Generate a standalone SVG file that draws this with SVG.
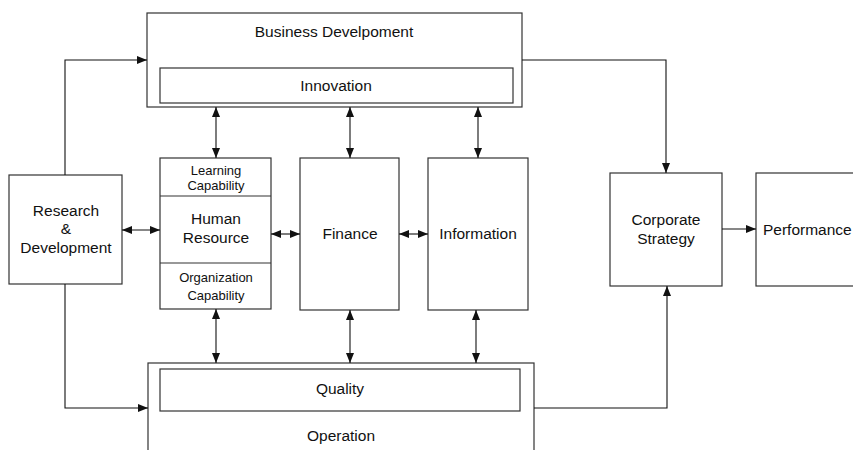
<svg xmlns="http://www.w3.org/2000/svg" width="853" height="450" viewBox="0 0 853 450">
<style>
.box{fill:#fff;stroke:#333;stroke-width:1.2}
.ln{fill:none;stroke:#111;stroke-width:1.1}
.t{font-family:"Liberation Sans",Arial,sans-serif;font-size:15.5px;fill:#111;text-anchor:middle}
.s{font-size:13px}
</style>
<defs>
<marker id="ah" viewBox="0 0 10 10" refX="10" refY="5" markerWidth="10" markerHeight="10" markerUnits="userSpaceOnUse" orient="auto-start-reverse">
<path d="M0,1 L10,5 L0,9 Z" fill="#111"/>
</marker>
</defs>
<rect width="853" height="450" fill="#fff"/>
<g id="business">
<rect class="box" x="147" y="13" width="375" height="94"/>
<text class="t" x="334" y="37">Business Develpoment</text>
</g>
<g id="innovation">
<rect class="box" x="160" y="68" width="353" height="35"/>
<text class="t" x="336" y="91">Innovation</text>
</g>
<g id="rd">
<rect class="box" x="9" y="175" width="113" height="109"/>
<text class="t" x="66" y="216">Research</text>
<text class="t" x="66" y="234">&amp;</text>
<text class="t" x="66" y="253">Development</text>
</g>
<g id="hr">
<rect class="box" x="160" y="158" width="111" height="151"/>
<line class="box" x1="160" y1="196" x2="271" y2="196"/>
<line class="box" x1="160" y1="263" x2="271" y2="263"/>
<text class="t s" x="216" y="175">Learning</text>
<text class="t s" x="216" y="190">Capability</text>
<text class="t" x="216" y="224">Human</text>
<text class="t" x="216" y="243">Resource</text>
<text class="t s" x="216" y="282">Organization</text>
<text class="t s" x="216" y="300">Capability</text>
</g>
<g id="finance">
<rect class="box" x="300" y="158" width="99" height="152"/>
<text class="t" x="350" y="239">Finance</text>
</g>
<g id="information">
<rect class="box" x="428" y="158" width="100" height="152"/>
<text class="t" x="478" y="239">Information</text>
</g>
<g id="strategy">
<rect class="box" x="610" y="173" width="112" height="113"/>
<text class="t" x="666" y="225">Corporate</text>
<text class="t" x="666" y="244">Strategy</text>
</g>
<g id="performance">
<rect class="box" x="756" y="173" width="110" height="113"/>
<text class="t" x="763" y="235" style="text-anchor:start">Performance</text>
</g>
<g id="operation">
<rect class="box" x="148" y="363" width="386" height="100"/>
<text class="t" x="341" y="441">Operation</text>
</g>
<g id="quality">
<rect class="box" x="160" y="369" width="360" height="42"/>
<text class="t" x="340" y="394">Quality</text>
</g>
<g id="connectors">
<polyline class="ln" points="65,175 65,60 147,60" marker-end="url(#ah)"/>
<polyline class="ln" points="65,284 65,408 148,408" marker-end="url(#ah)"/>
<line class="ln" x1="122" y1="230" x2="160" y2="230" marker-start="url(#ah)" marker-end="url(#ah)"/>
<line class="ln" x1="271" y1="234" x2="300" y2="234" marker-start="url(#ah)" marker-end="url(#ah)"/>
<line class="ln" x1="399" y1="234" x2="428" y2="234" marker-start="url(#ah)" marker-end="url(#ah)"/>
<line class="ln" x1="216" y1="107" x2="216" y2="158" marker-start="url(#ah)" marker-end="url(#ah)"/>
<line class="ln" x1="350" y1="107" x2="350" y2="158" marker-start="url(#ah)" marker-end="url(#ah)"/>
<line class="ln" x1="478" y1="107" x2="478" y2="158" marker-start="url(#ah)" marker-end="url(#ah)"/>
<line class="ln" x1="216" y1="309" x2="216" y2="363" marker-start="url(#ah)" marker-end="url(#ah)"/>
<line class="ln" x1="350" y1="310" x2="350" y2="363" marker-start="url(#ah)" marker-end="url(#ah)"/>
<line class="ln" x1="476" y1="310" x2="476" y2="363" marker-start="url(#ah)" marker-end="url(#ah)"/>
<polyline class="ln" points="522,60 666,60 666,173" marker-end="url(#ah)"/>
<polyline class="ln" points="534,408 667,408 667,286" marker-end="url(#ah)"/>
<line class="ln" x1="722" y1="229" x2="756" y2="229" marker-end="url(#ah)"/>
</g>
</svg>
